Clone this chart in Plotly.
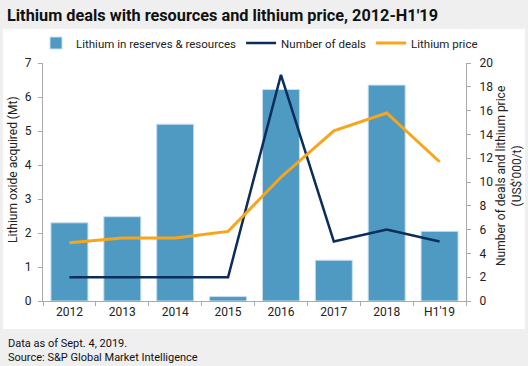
import plotly.graph_objects as go

categories = ["2012", "2013", "2014", "2015", "2016", "2017", "2018", "H1'19"]
lithium_mt = [2.3, 2.48, 5.2, 0.13, 6.22, 1.2, 6.35, 2.05]
num_deals = [2, 2, 2, 2, 19, 5, 6, 5]
lithium_price = [4.9, 5.3, 5.3, 5.85, 10.4, 14.3, 15.8, 11.7]

FONT = "Roboto"
L, R, T, B = 43, 62, 63, 65
PW, PH = 528 - L - R, 366 - T - B


def px(x):
    return (x - L) / PW


def py(y):
    return (366 - B - y) / PH


fig = go.Figure()
fig.add_trace(go.Bar(x=categories, y=lithium_mt, name="Lithium in reserves & resources",
                     marker=dict(color="#4f9ac2", line=dict(color="#c8dff0", width=1)),
                     width=0.7, yaxis="y"))
fig.add_trace(go.Scatter(x=categories, y=num_deals, name="Number of deals", mode="lines",
                         line=dict(color="#0b2d5b", width=2.5), yaxis="y2"))
fig.add_trace(go.Scatter(x=categories, y=lithium_price, name="Lithium price", mode="lines",
                         line=dict(color="#f9a51b", width=3), yaxis="y2"))

fig.update_layout(
    width=528, height=366,
    paper_bgcolor="#efefef", plot_bgcolor="rgba(0,0,0,0)",
    margin=dict(l=L, r=R, t=T, b=B, autoexpand=False),
    font=dict(family=FONT, size=12, color="#222"),
    title=dict(text="<b>Lithium deals with resources and lithium price, 2012-H1'19</b>",
               x=7 / 528, xanchor="left", xref="container", y=1 - 15 / 366, yanchor="middle",
               yref="container", font=dict(size=16.3, color="#111", family=FONT)),
    showlegend=True,
    legend=dict(orientation="h", xref="paper", yref="paper", x=px(36),
                xanchor="left", y=py(43), yanchor="middle",
                font=dict(size=11.5), bgcolor="rgba(0,0,0,0)", traceorder="normal",
                itemwidth=30, tracegroupgap=0),
    xaxis=dict(showline=True, linecolor="#aaa", ticks="outside", tickson="boundaries",
               ticklen=4, tickcolor="#aaa", showgrid=False, tickfont=dict(size=12)),
    yaxis=dict(range=[0, 7], dtick=1, showline=True, linecolor="#aaa", ticks="outside",
               ticklen=4, tickcolor="#aaa", showgrid=False, zeroline=False,
               automargin=False, ticklabelstandoff=4),
    yaxis2=dict(range=[0, 20], dtick=2, overlaying="y", side="right", showline=True,
                linecolor="#aaa", ticks="outside", ticklen=4, tickcolor="#aaa",
                showgrid=False, zeroline=False, automargin=False, ticklabelstandoff=6),
    shapes=[dict(type="rect", xref="paper", yref="paper", x0=px(3), x1=px(525),
                 y0=py(329), y1=py(29), fillcolor="white", line=dict(width=0), layer="below")],
    annotations=[
        dict(text="Data as of Sept. 4, 2019.<br>Source: S&P Global Market Intelligence",
             xref="paper", yref="paper", x=px(6), y=py(335), xanchor="left",
             yanchor="top", showarrow=False, align="left",
             font=dict(size=11, color="#111")),
        dict(text="Lithium oxide acquired (Mt)", textangle=-90, xref="paper",
             yref="paper", x=px(13), y=py(170), xanchor="center", yanchor="middle",
             showarrow=False, font=dict(size=12, color="#222")),
        dict(text="Number of deals and lithium price<br>(US$'000/t)", textangle=-90,
             xref="paper", yref="paper", x=px(509), y=py(176), xanchor="center",
             yanchor="middle", showarrow=False, font=dict(size=12, color="#222")),
    ],
)
fig.write_html("out.html", config={"displayModeBar": False},
               post_script="document.body.style.margin='0';")
